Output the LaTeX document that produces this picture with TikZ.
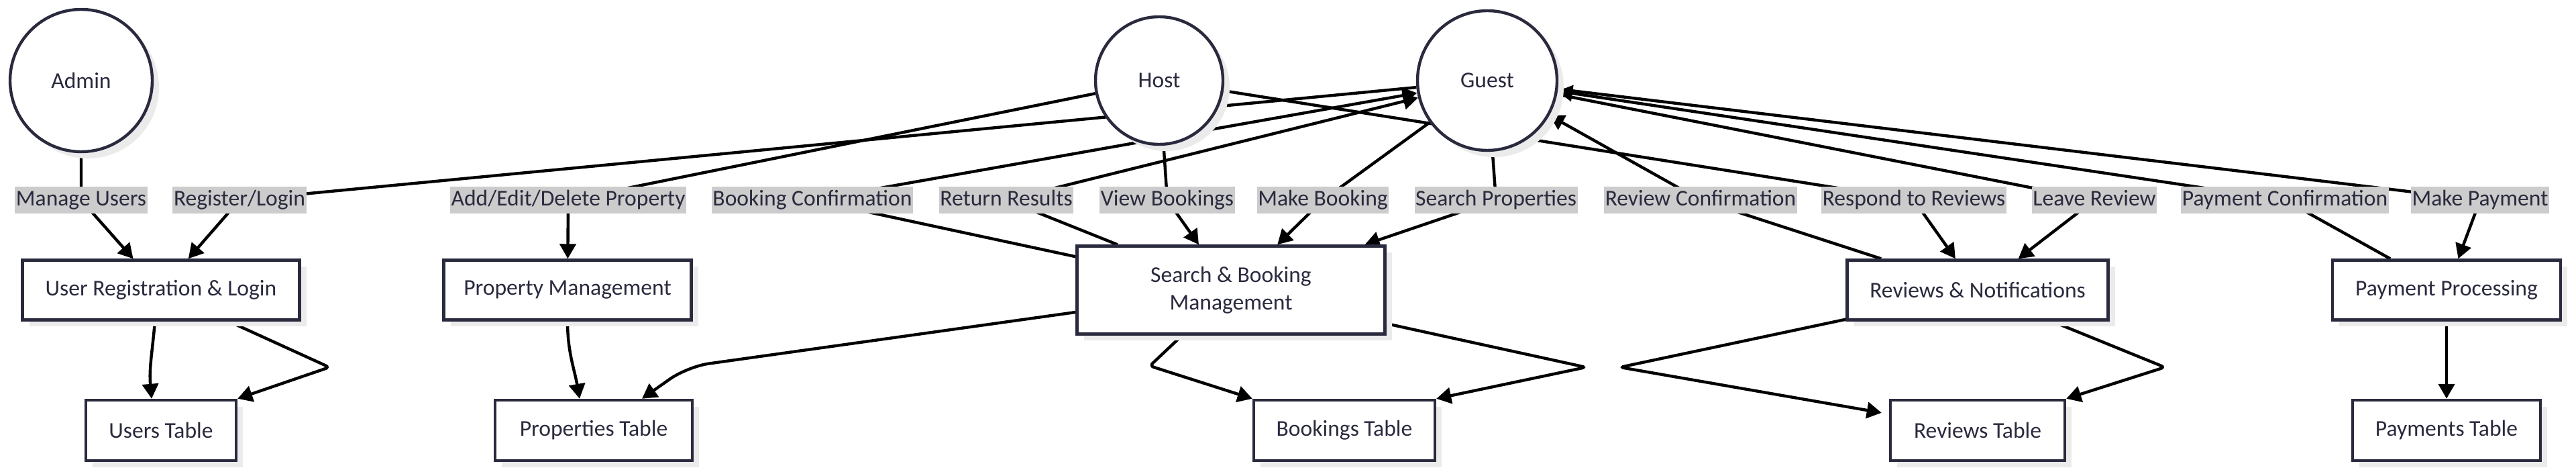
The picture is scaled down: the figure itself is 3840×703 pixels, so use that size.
\documentclass[tikz,border=0pt]{standalone}
\usepackage{fontspec}
\setmainfont{Carlito}
\usepackage{xcolor}
\usepackage{tikz}
\usetikzlibrary{arrows.meta, shadows, calc, backgrounds}

\definecolor{navy}{HTML}{2A2A3E}
\definecolor{lblgray}{HTML}{CCCCCC}
\definecolor{shade}{HTML}{EBEBEB}

\tikzset{
  nodeshadow/.style={drop shadow={shadow xshift=2.5pt, shadow yshift=-2.5pt, fill=shade, opacity=1}},
  actor/.style={draw=navy, line width=1.1pt, circle, fill=white, text=navy, inner sep=0pt, nodeshadow},
  proc/.style={draw=navy, line width=1.1pt, rectangle, fill=white, text=navy, align=center, minimum height=22.25pt, nodeshadow},
  tbl/.style={proc, minimum height=22.5pt},
  lbl/.style={fill=lblgray, text=navy, inner xsep=0.4pt, inner ysep=1.1pt, text height=6.1pt, text depth=1.8pt},
  flow/.style={draw=black, line width=1.1pt, -{Triangle[length=5.5pt, width=6pt]}}
}

\begin{document}
\begin{tikzpicture}[x=0.25pt, y=0.25pt, font=\fontsize{8.4}{10.25}\selectfont]
        \useasboundingbox (0,0) rectangle (3840,-703);

        \node[actor, minimum size=53pt] (admin) at (121,-120) {Admin};
        \node[actor, minimum size=47.5pt] (host) at (1728,-120) {Host};
        \node[actor, minimum size=52pt] (guest) at (2217,-120) {Guest};

        \node[proc, minimum width=103.25pt] (ur) at (240,-432) {User Registration \& Login};
        \node[proc, minimum width=92.25pt] (pm) at (846,-432) {Property Management};
        \node[proc, minimum width=114.75pt, minimum height=32.75pt] (sb) at (1835,-432) {Search \& Booking\\Management};
        \node[proc, minimum width=97.25pt] (rn) at (2948,-432) {Reviews \& Notifications};
        \node[proc, minimum width=85pt] (pp) at (3647,-432) {Payment Processing};

        \node[tbl, minimum width=56pt] (users) at (240,-641) {Users Table};
        \node[tbl, minimum width=73.5pt] (props) at (885,-641) {Properties Table};
        \node[tbl, minimum width=67.5pt] (bookings) at (2004,-641) {Bookings Table};
        \node[tbl, minimum width=65pt] (reviews) at (2948,-641) {Reviews Table};
        \node[tbl, minimum width=70pt] (payments) at (3647,-641) {Payments Table};

        \node[lbl] (lManage) at (121,-298) {Manage Users};
        \node[lbl] (lReg) at (357,-298) {Register/Login};
        \node[lbl] (lAdd) at (847,-298) {Add/Edit/Delete Property};
        \node[lbl] (lBookConf) at (1211,-298) {Booking Confirmation};
        \node[lbl] (lRet) at (1500,-298) {Return Results};
        \node[lbl] (lView) at (1740,-298) {View Bookings};
        \node[lbl] (lMakeB) at (1972,-298) {Make Booking};
        \node[lbl] (lSearch) at (2230,-298) {Search Properties};
        \node[lbl] (lRevConf) at (2535,-298) {Review Confirmation};
        \node[lbl] (lResp) at (2853,-298) {Respond to Reviews};
        \node[lbl] (lLeave) at (3122,-298) {Leave Review};
        \node[lbl] (lPayConf) at (3406,-298) {Payment Confirmation};
        \node[lbl] (lMakeP) at (3697,-298) {Make Payment};

        \coordinate (uBend) at (491,-547);
        \coordinate (pBend) at (1025,-546);
        \coordinate (bBendL) at (1714,-545);
        \coordinate (bBendR) at (2364,-547);
        \coordinate (rBendL) at (2415,-547);
        \coordinate (rBendR) at (3227,-547);

        \begin{pgfonlayer}{background}
        \fill[white] (0,0) rectangle (3840,-703);
        \draw[flow] (admin) -- (lManage.center) -- (ur);
        \draw[flow] (guest) -- (lReg.center) -- (ur);
        \draw[flow] (host) -- (lAdd.center) -- (pm);
        \draw[flow] (sb) -- (lBookConf.center) -- (guest);
        \draw[flow] (sb) -- (lRet.center) -- (guest);
        \draw[flow] (host) -- (lView.center) -- (sb);
        \draw[flow] (guest) -- (lMakeB.center) -- (sb);
        \draw[flow] (guest) -- (lSearch.center) -- (sb);
        \draw[flow] (rn) -- (lRevConf.center) -- (guest);
        \draw[flow] (host) -- (lResp.center) -- (rn);
        \draw[flow] (guest) -- (lLeave.center) -- (rn);
        \draw[flow] (pp) -- (lPayConf.center) -- (guest);
        \draw[flow] (guest) -- (lMakeP.center) -- (pp);

        \draw[flow] ($(ur.south)+(-9,0)$) to[out=-95, in=95] ($(users.north)+(-14,0)$);
        \draw[flow, rounded corners=1.5pt] ($(ur.south)+(101,0)$) -- (uBend) -- (users.north east);
        \draw[flow] (pm.south) to[out=-90, in=100] ($(props.north)+(-21,0)$);
        \draw[flow, rounded corners=8pt] ($(sb.west)+(0,-33)$) -- (pBend) -- ($(props.north)+(72,0)$);
        \draw[flow, rounded corners=1.5pt] ($(sb.south)+(-73,0)$) -- (bBendL) -- (bookings.north west);
        \draw[flow, rounded corners=1.5pt] ($(sb.east)+(0,-50)$) -- (bBendR) -- (bookings.north east);
        \draw[flow, rounded corners=1.5pt] ($(rn.south west)+(0,3)$) -- (rBendL) -- ($(reviews.north west)+(-11,-21)$);
        \draw[flow, rounded corners=1.5pt] ($(rn.south)+(111,0)$) -- (rBendR) -- (reviews.north east);
        \draw[flow] (pp) -- (payments);
        \end{pgfonlayer}
    \end{tikzpicture}
\end{document}
